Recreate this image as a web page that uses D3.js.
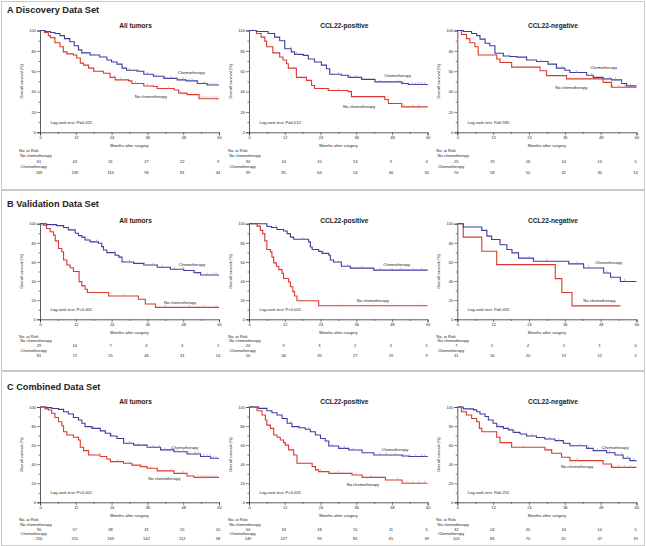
<!DOCTYPE html>
<html><head><meta charset="utf-8">
<script src="https://cdn.jsdelivr.net/npm/d3@7"></script>
<style>body{margin:0;background:#fff}svg{display:block}text{font-family:"Liberation Sans",Arial,sans-serif;fill:#222}</style>
</head><body><svg id="c" width="646" height="546"></svg>
<script>
// ---------- DATA ----------
const months = [0, 12, 24, 36, 48, 60];
const minorMonths = [6, 18, 30, 42, 54];
const yTicks = [0, 20, 40, 60, 80, 100];
const dataSetTitles = ["A Discovery Data Set", "B Validation Data Set", "C Combined Data Set"];
const panelTitles = ["All tumors", "CCL22-positive", "CCL22-negative"];
const seriesNames = ["Chemotherapy", "No chemotherapy"];
const pValues = [["P=0.025", "P=0.012", "P=0.595"], ["P<0.001", "P<0.001", "P=0.055"], ["P<0.001", "P<0.001", "P=0.252"]];

// numbers at risk (months 0,12,24,36,48,60)
const riskNoChemo = [[61,43,31,27,22,9],[30,24,15,13,9,4],[25,19,16,14,13,5],
                     [29,14,7,4,3,1],[20,9,3,2,2,1],[7,5,4,2,1,0],
                     [90,57,38,31,25,10],[50,33,18,15,11,5],[32,24,20,16,14,5]];
const riskChemo = [[169,139,114,96,81,44],[99,81,64,54,46,30],[70,58,50,42,35,14],
                   [81,72,55,46,31,14],[50,46,35,27,19,9],[31,26,20,19,12,5],
                   [250,211,169,142,112,58],[149,127,99,81,65,39],[101,84,70,61,47,19]];

// Kaplan-Meier steps [month, survival %]
const chemoA1 = [[0,100],[1.7,99],[3.5,98],[5,97],[6.7,95],[8.2,92],[10,89],[11.5,85],[12.9,81],[14,78],[16.8,76],[20,74],[22.4,71],[24,69],[25.8,67],[27.5,63],[29,61],[32.5,60],[34.8,57],[38,55],[41.5,53],[46,51.5],[49,50.5],[52.7,48],[56,46.5],[60,46.5]];
const noChemoA1 = [[0,100],[1.5,98],[2.8,95],[3.5,93],[5,88],[6.7,84],[7.8,79],[9,77],[11.2,76],[12.3,73],[13.5,68],[14.6,66],[16.3,63],[18,60],[21.3,58],[23.5,54],[25.2,51.5],[29.7,50.5],[30.8,48],[34.8,45.5],[38,45],[39.3,43],[45,41.6],[46.5,38.5],[49.3,37],[53.3,33],[60,33]];
const chemoA2 = [[0,100],[2.5,99],[6.4,97],[8.6,93.5],[10.3,90],[12,82],[14.2,79],[15.3,76.5],[18.2,75.6],[19.9,72],[22,69],[24.3,66],[26,62.5],[27.1,57],[31,56],[33.3,54],[37.8,52],[42.3,49.5],[51.3,48],[53.5,47],[60,47]];
const noChemoA2 = [[0,100],[2.5,97],[4.1,93.5],[5.3,89.6],[5.9,84],[8,78],[10.3,74],[11.4,71],[12.6,67.4],[13.2,63],[15.9,54],[19.3,51],[21,46],[22,43],[26.6,41],[33.3,40],[34.4,35],[45.6,32.2],[46.8,28.3],[51.3,25],[60,25]];
const chemoA3 = [[0,100],[2,99],[4.8,97],[6.5,95],[7.6,91.5],[9.3,87.5],[10.9,85],[12.6,77.7],[15.4,75],[17.6,74.4],[19.9,73.8],[23.2,71],[26.5,69.5],[30.4,67],[33.2,63],[36,61],[37.7,58.7],[43.3,56],[45.5,54],[48.8,52.5],[51.6,51.5],[55,48],[56.6,45.6],[60,45.6]];
const noChemoA3 = [[0,100],[1.4,96],[3.1,92],[4.2,88],[5.9,84],[7,76],[13.2,72],[14.3,68.5],[18.2,64],[27.7,60.5],[29.9,55.7],[36.6,52.5],[48.8,49],[51.6,44.3],[60,44.3]];
const chemoB1 = [[0,100],[2.2,99],[5.6,98],[7.9,96],[9.5,93.5],[11.8,90],[12.9,87.5],[14,86],[15.1,83],[16.8,81],[19.6,79.5],[20.7,76],[21.3,72.5],[22.4,69.7],[25.2,67],[26.4,65],[27.5,60],[31.4,58.5],[34.8,56.8],[39.3,54.4],[43.7,52.3],[48.2,51],[51.6,48.8],[53.8,46.3],[60,46.3]];
const noChemoB1 = [[0,100],[1.1,98.5],[2.2,95],[3.4,91.6],[4.5,88],[5.1,82],[6.2,74],[7.3,70.7],[7.9,62],[9,56.8],[10.1,54],[11.2,50],[13.1,39.4],[14,35],[15.1,31.4],[15.9,28],[23,24.4],[33,21],[35.3,16],[38.7,12.5],[60,12.5]];
const chemoB2 = [[0,100],[6,97],[7.6,96],[9.4,94],[11.6,92.4],[12.8,89.6],[13.9,86],[15,83.7],[20,81],[20.6,75.7],[21.2,73],[23.4,71],[24.5,69],[26.8,67],[27.3,62],[28.4,60],[31,55.5],[34,53.5],[41.9,51.4],[60,51.4]];
const noChemoB2 = [[0,100],[2.7,97.5],[3.8,93],[4.6,89.6],[5.3,82],[6,73],[7.2,70.5],[7.7,65],[8.3,59],[9.2,55.5],[10,52],[11.1,48],[11.6,42.7],[13.3,39],[13.9,34],[14.7,29],[15.3,24.3],[16.1,19.4],[23.4,14.2],[60,14.2]];
const chemoB3 = [[0,100],[2,96.5],[8.2,93],[9.9,87],[11.5,83.5],[14.3,78],[16.6,73],[18.3,69.5],[20.5,64],[25.5,60.7],[37.3,58],[42.3,53.7],[49,48.4],[51.3,44],[54.6,39.6],[60,39.6]];
const noChemoB3 = [[0,100],[2,86],[8.2,71.2],[13.2,57.2],[32.8,42.5],[35,28],[38.4,14],[54.6,14]];
const chemoC1 = [[0,100],[2.2,99.3],[4,98.5],[6.2,97.5],[7.9,95],[9.5,92.7],[11.2,89],[12.9,86.4],[14,83],[15.1,79.4],[17.4,77.6],[20.2,75],[21.9,72.4],[23.6,69.6],[25.8,67],[28,62],[31.4,60],[35.9,57.7],[40.4,55],[44.9,53],[49.3,50.7],[53.8,48],[57.2,46.2],[60,46.2]];
const noChemoC1 = [[0,100],[1.7,98],[2.8,96.8],[3.9,93.4],[5,89],[6.2,84.6],[7.3,80.4],[7.9,74],[9,70.6],[11.2,68.2],[12.9,65.4],[13.5,57.7],[14.6,54.2],[16.3,49.6],[20.2,48],[22.4,45.5],[23.6,42.7],[28,41],[30.8,39],[33.6,37.4],[35.9,35.7],[39.3,33],[44.9,30.4],[49.3,27.6],[51.6,26.2],[60,26.2]];
const chemoC2 = [[0,100],[3.2,98.6],[6,96],[7.7,94],[9.4,91.6],[11.1,88],[12.8,83],[14.4,79.4],[16.7,78.3],[18.9,76.6],[20.6,74],[22.3,70.6],[24,67],[25.6,64.3],[26.8,59],[30.1,56.6],[33.5,54.9],[38,52],[41.9,49.7],[51.4,48.6],[53.6,48],[60,48]];
const noChemoC2 = [[0,100],[2.7,96],[4.4,91.6],[5.5,86.4],[6,81],[7.2,77.6],[8.3,70.6],[9.4,68.2],[10.5,65.4],[11.6,62.6],[12.2,60],[13.3,55],[15,49.7],[16.1,41],[21.2,37.4],[22.3,34],[23.4,32.2],[26.8,30.4],[34.6,28.7],[38,26.2],[45.8,23.4],[51.4,20],[60,20]];
const chemoC3 = [[0,100],[2,98],[5.4,97],[6.5,95],[7.6,92.7],[9.3,90],[10.4,86.4],[12,83],[13.2,79.4],[15.4,77.6],[17.1,76],[18.7,73.4],[21,71.7],[23.2,69.6],[26.5,68],[29.3,66.4],[32.7,64.7],[35.5,62],[37.7,59.4],[43.3,56.6],[45.5,54.2],[50,52],[52.8,49.7],[55.5,46.2],[57.8,43.7],[60,43.7]];
const noChemoC3 = [[0,100],[1.4,95],[3.1,91.6],[4.8,88],[6.5,84.6],[7.4,77.6],[8.2,74],[13.2,68.2],[14.3,62.6],[18.2,57.7],[29.3,55],[31.6,51.4],[34.9,47.2],[37.7,43.7],[48.8,40.2],[51.6,36.7],[60,36.7]];

// censoring times (months)
const censChemo = [[30,33,36,39,42,44,46,48,50,51,53,55,57,58,59],[14,16,30,34,36,38,44,50,52,55,56,57,58,59],[28,35,40,45,49,51,53,55,57,58],
                   [16,19,25,30,35,38,41,45,48,52,54,56,58,59],[9,18,25,33,38,44,48,51,55,58],[24,30,40,44,50,56],
                   [14,18,24,30,33,36,38,40,42,44,46,48,50,52,53,55,56,57,58,59],[14,17,20,28,32,35,38,42,44,46,49,52,54,56,58,59],[12,14,19,25,31,34,38,41,44,47,49,51,53,55,57,59]];
const censNoChemo = [[25,27,32,36,43,47,54,55,56,57,58,59],[27,30,52,55,57],[49,52,54,56,58],
                     [28,42,50,55,59],[30,40,48,58],[],
                     [20,26,30,34,37,44,48,53,54,55,56,57,58,59],[24,27,30,36,41,50,53,55,57,59],[22,30,40,49,52,54,56,58]];

// label anchor points [month, %]
const chemoLabelAt = [[46.2,58.6],[45.4,55.6],[44.5,63.5],[46.4,57],[45.1,57],[46.2,59.4],[44.1,57.7],[44.5,54.9],[48.4,57.7]];
const noChemoLabelAt = [[31.8,35],[31.6,25.1],[32.8,44.2],[41.6,17.4],[36.2,19.2],[42.2,19.2],[36.3,25.2],[32.8,19.2],[34.7,37.4]];

// ---------- LAYOUT ----------
const chemoCurves = [chemoA1, chemoA2, chemoA3, chemoB1, chemoB2, chemoB3, chemoC1, chemoC2, chemoC3];
const noChemoCurves = [noChemoA1, noChemoA2, noChemoA3, noChemoB1, noChemoB2, noChemoB3, noChemoC1, noChemoC2, noChemoC3];
const BLUE = "#3d3d9e", RED = "#d9392e";
const rows = [
  {box:[1,1,643,188], headY:10, titleY:25.5, top:30.5, bottom:132.3, tickDy:7, labDy:13.4, risk:[17.7,22.7,28.7,33.7,39.7]},
  {box:[1,190,643,180], headY:204, titleY:220.7, top:223.7, bottom:319.3, tickDy:6.4, labDy:13, risk:[17.4,21.6,26.4,31.2,36.5]},
  {box:[1,371,643,174], headY:386.7, titleY:401.7, top:407, bottom:502.3, tickDy:6.4, labDy:12.7, risk:[17,21.7,26.7,31.4,36]}
];
const cols = [{x0:40,x1:219},{x0:249,x1:427.7},{x0:457.3,x1:636.5}];

const svg = d3.select("#c");
svg.append("rect").attr("width",646).attr("height",546).attr("fill","#fff");

function stepValue(curve, t){ let v = curve[0][1]; for (const p of curve){ if (p[0] <= t) v = p[1]; } return v; }

rows.forEach((r, ri) => {
  svg.append("rect").attr("x",r.box[0]+0.5).attr("y",r.box[1]+0.5).attr("width",r.box[2]).attr("height",r.box[3])
     .attr("fill","none").attr("stroke","#c9c9c9").attr("stroke-width",1);
  svg.append("text").attr("x",7).attr("y",r.headY).attr("dominant-baseline","central")
     .attr("font-size",9.2).attr("font-weight","bold").text(dataSetTitles[ri]);

  cols.forEach((c, ci) => {
    const k = ri*3 + ci;
    const x = d3.scaleLinear().domain([0,60]).range([c.x0, c.x1]);
    const y = d3.scaleLinear().domain([0,100]).range([r.bottom, r.top]);
    const g = svg.append("g");

    g.append("text").attr("x",(c.x0+c.x1)/2+6).attr("y",r.titleY).attr("dominant-baseline","central")
      .attr("text-anchor","middle").attr("font-size",6.6).attr("font-weight","bold").text(panelTitles[ci]);

    // axes
    const xa = g.append("g").attr("transform",`translate(0,${r.bottom})`)
      .call(d3.axisBottom(x).tickValues(months).tickSize(3).tickPadding(1.2).tickFormat(d3.format("d")));
    const ya = g.append("g").attr("transform",`translate(${c.x0},0)`)
      .call(d3.axisLeft(y).tickValues(yTicks).tickSize(3).tickPadding(1.2));
    g.append("g").attr("transform",`translate(0,${r.bottom})`)
      .call(d3.axisBottom(x).tickValues(minorMonths).tickSize(1.6).tickFormat(""))
      .call(s=>s.select(".domain").remove());
    g.append("g").attr("transform",`translate(${c.x0},0)`)
      .call(d3.axisLeft(y).tickValues([10,30,50,70,90]).tickSize(1.6).tickFormat(""))
      .call(s=>s.select(".domain").remove());
    g.selectAll(".domain").attr("stroke","#333").attr("stroke-width",0.8);
    g.selectAll(".tick line").attr("stroke","#333").attr("stroke-width",0.6);
    [xa, ya].forEach(a => a.selectAll("text").attr("font-size",3.9).attr("fill","#333")
       .style("font-family",'"Liberation Sans",Arial,sans-serif'));

    g.append("text").attr("transform",`translate(${c.x0-19},${(r.top+r.bottom)/2}) rotate(-90)`)
      .attr("text-anchor","middle").attr("dominant-baseline","central").attr("font-size",4).text("Overall survival (%)");
    g.append("text").attr("x",(c.x0+c.x1)/2).attr("y",r.bottom+r.labDy).attr("dominant-baseline","central")
      .attr("text-anchor","middle").attr("font-size",4.2).text("Months after surgery");

    // curves
    const line = d3.line().x(d=>x(d[0])).y(d=>y(d[1])).curve(d3.curveStepAfter);
    [[noChemoCurves[k], RED, censNoChemo[k], "#ef8a80"], [chemoCurves[k], BLUE, censChemo[k], "#8f8fd6"]].forEach(([cv, col, cens, lc]) => {
      g.append("path").datum(cv).attr("d",line).attr("fill","none").attr("stroke",col).attr("stroke-width",1.1);
      g.selectAll(null).data(cens).enter().append("line")
        .attr("x1",t=>x(t)).attr("x2",t=>x(t))
        .attr("y1",t=>y(stepValue(cv,t))+0.3).attr("y2",t=>y(stepValue(cv,t))-2.4)
        .attr("stroke",lc).attr("stroke-width",0.7);
    });

    // labels
    g.append("text").attr("x",x(chemoLabelAt[k][0])).attr("y",y(chemoLabelAt[k][1])).attr("dominant-baseline","central")
      .attr("font-size",4.1).text(seriesNames[0]);
    g.append("text").attr("x",x(noChemoLabelAt[k][0])).attr("y",y(noChemoLabelAt[k][1])).attr("dominant-baseline","central")
      .attr("font-size",4.1).text(seriesNames[1]);
    g.append("text").attr("x",x(3.5)).attr("y",y(10)).attr("dominant-baseline","central")
      .attr("font-size",4.1).text("Log-rank test: " + pValues[ri][ci]);

    // risk table
    const rx = c.x0 - 21;
    g.append("text").attr("x",rx).attr("y",r.bottom+r.risk[0]).attr("dominant-baseline","central").attr("font-size",4).text("No. at Risk");
    g.append("text").attr("x",rx+1.2).attr("y",r.bottom+r.risk[1]).attr("dominant-baseline","central").attr("font-size",4).text(seriesNames[1]);
    g.append("text").attr("x",rx+1.6).attr("y",r.bottom+r.risk[3]).attr("dominant-baseline","central").attr("font-size",4).text(seriesNames[0]);
    g.selectAll(null).data(riskNoChemo[k]).enter().append("text")
      .attr("x",(d,i)=>x(months[i])-1).attr("y",r.bottom+r.risk[2]).attr("dominant-baseline","central")
      .attr("text-anchor","middle").attr("font-size",4).text(d=>d);
    g.selectAll(null).data(riskChemo[k]).enter().append("text")
      .attr("x",(d,i)=>x(months[i])-1).attr("y",r.bottom+r.risk[4]).attr("dominant-baseline","central")
      .attr("text-anchor","middle").attr("font-size",4).text(d=>d);
  });
});
</script>
</body></html>
